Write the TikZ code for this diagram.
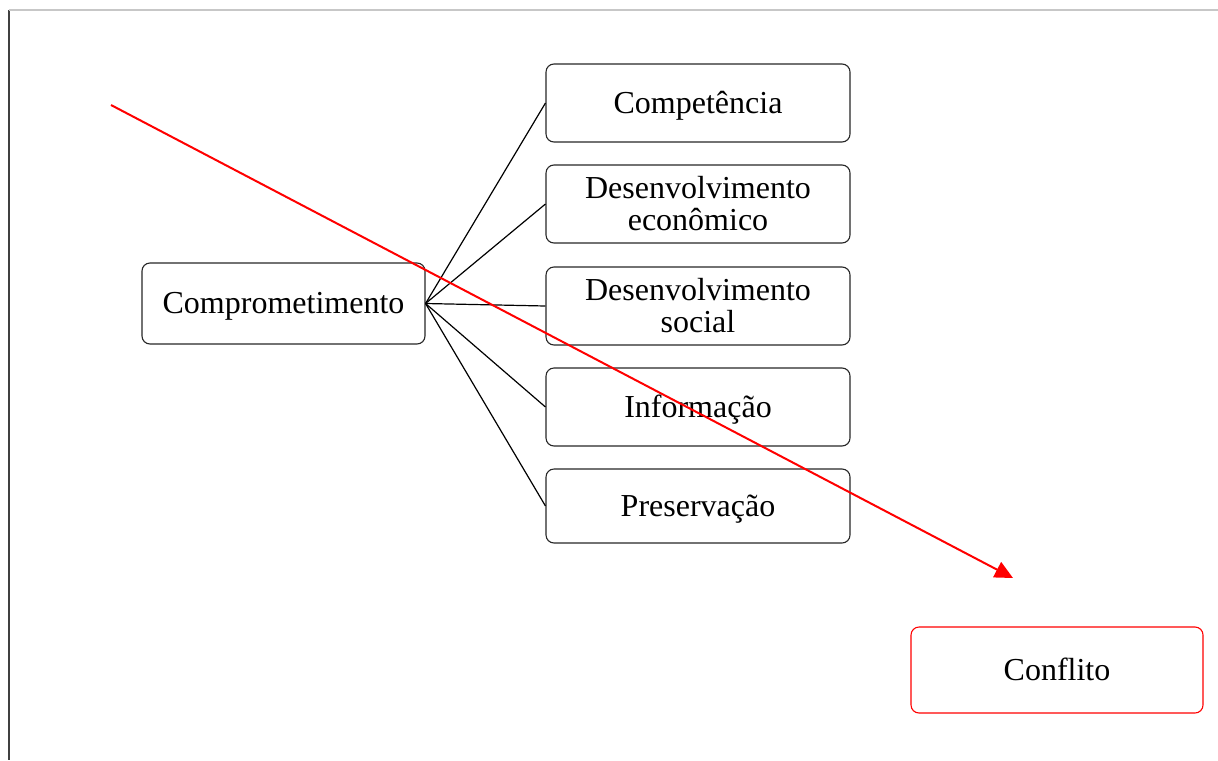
\documentclass[tikz,border=0pt]{standalone}
\usepackage{fontspec}
\setmainfont{Liberation Serif}
\usetikzlibrary{arrows.meta}
\begin{document}
\begin{tikzpicture}[x=0.5pt,y=-0.5pt,
  box/.style={draw=black!85,line width=0.55pt,rounded corners=4pt,align=center,
    font=\fontsize{16}{16}\selectfont,inner sep=0pt},
  one/.style={text height=12pt,text depth=2pt},
  link/.style={draw=black,line width=0.6pt},
  redarrow/.style={draw=red,line width=1pt,-{Triangle[length=9pt,width=8.5pt]}}]
\useasboundingbox (0,0) rectangle (1218,760);
\draw[black!75,line width=1pt] (8.5,10) -- (8.5,760);
\draw[black!22,line width=0.75pt] (8.5,10) -- (1218,10);

\node[box,one,minimum width=141.5pt,minimum height=40.5pt] (comp) at (283.5,303.5) {Comprometimento};
\node[box,one,minimum width=152pt,minimum height=39pt] (c1) at (698,103) {Competência};
\node[box,minimum width=152pt,minimum height=39pt] (c2) at (698,204) {Desenvolvimento\\econômico};
\node[box,minimum width=152pt,minimum height=39pt] (c3) at (698,306) {Desenvolvimento\\social};
\node[box,one,minimum width=152pt,minimum height=39pt] (c4) at (698,407) {Informação};
\node[box,one,minimum width=152pt,minimum height=37pt] (c5) at (698,506) {Preservação};
\node[box,one,draw=red,minimum width=146pt,minimum height=43pt] (conf) at (1057,670) {Conflito};

\foreach \n in {c1,c2,c3,c4,c5} \draw[link] (comp.east) -- (\n.west);

\coordinate (rs) at (111,105);
\coordinate (re) at (1013,578);
\draw[redarrow] (rs) -- (re);
\end{tikzpicture}
\end{document}
